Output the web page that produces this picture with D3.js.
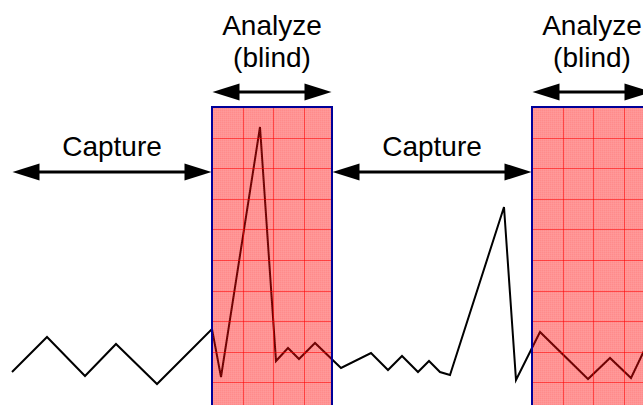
<!DOCTYPE html>
<html>
<head>
<meta charset="utf-8">
<script src="https://cdn.jsdelivr.net/npm/d3@7"></script>
<style>
  html, body { margin: 0; padding: 0; background: #fff; }
  svg { display: block; }
</style>
</head>
<body>
<svg id="chart" width="643" height="405"></svg>
<script>
// ---- data ----
const signalTime = [12, 47, 85, 116, 157, 212, 221, 260, 276, 288, 299, 315, 341, 371, 388, 402, 418, 429, 440, 450, 504, 516, 540, 588, 610, 631, 642, 652];
const signalAmp  = [33, 68, 29, 61, 21, 76, 28, 278, 44, 57, 46, 62, 37, 52, 35, 49, 33, 44, 33, 30, 198, 25, 73, 26, 47, 27, 50, 72];
const phaseLabels = ["Capture", "Analyze", "Capture", "Analyze"];
const phaseSub    = ["", "(blind)", "", "(blind)"];
const phaseStart  = [12, 212, 332, 532];
const phaseEnd    = [212, 332, 532, 652];
const blindTop = 298;

// ---- setup ----
const W = 643, H = 405;
const svg = d3.select("#chart");
const x = d3.scaleLinear().domain([0, W]).range([0, W]);
const y = d3.scaleLinear().domain([0, H]).range([H, 0]);

const defs = svg.append("defs");
const pat = defs.append("pattern").attr("id", "dither")
  .attr("patternUnits", "userSpaceOnUse").attr("width", 2).attr("height", 2);
pat.append("rect").attr("width", 2).attr("height", 2).attr("fill", "#ff0000").attr("fill-opacity", 0.42);
pat.append("rect").attr("width", 1).attr("height", 1).attr("fill", "#ff0000").attr("fill-opacity", 0.06);
pat.append("rect").attr("x", 1).attr("y", 1).attr("width", 1).attr("height", 1).attr("fill", "#ffffff").attr("fill-opacity", 0.06);

// ---- signal ----
const pts = signalTime.map((t, i) => [t, signalAmp[i]]);
svg.append("path")
  .datum(pts)
  .attr("d", d3.line().x(d => x(d[0])).y(d => y(d[1])))
  .attr("fill", "none").attr("stroke", "#000").attr("stroke-width", 2)
  .attr("stroke-linejoin", "miter");

// ---- blind windows ----
const blind = phaseLabels.map((l, i) => ({ l, s: phaseStart[i], e: phaseEnd[i], i })).filter(d => d.l === "Analyze");
const cell = 30.6;
blind.forEach(b => {
  const g = svg.append("g");
  const x0 = x(b.s), x1 = x(b.e), y0 = y(blindTop), y1 = y(0) + 10;
  g.append("rect").attr("x", x0).attr("y", y0).attr("width", x1 - x0).attr("height", y1 - y0)
    .attr("fill", "url(#dither)");
  const vx = d3.range(x0 + cell, x1 - 2, cell);
  const hy = d3.range(y0 + cell, y1, cell);
  g.selectAll("line.v").data(vx).enter().append("line")
    .attr("x1", d => Math.round(d) + 0.5).attr("x2", d => Math.round(d) + 0.5)
    .attr("y1", y0).attr("y2", y1).attr("stroke", "#ff0000").attr("stroke-opacity", 0.55).attr("stroke-width", 1);
  g.selectAll("line.h").data(hy).enter().append("line")
    .attr("y1", d => Math.round(d) + 0.5).attr("y2", d => Math.round(d) + 0.5)
    .attr("x1", x0).attr("x2", x1).attr("stroke", "#ff0000").attr("stroke-opacity", 0.55).attr("stroke-width", 1);
  g.append("path")
    .attr("d", `M${x0},${y1}V${y0}H${x1}V${y1}`)
    .attr("fill", "none").attr("stroke", "#000099").attr("stroke-width", 2);
});

// ---- arrows & labels ----
function arrow(xa, xb, yy) {
  const L = 27, hw = 8.5;
  svg.append("line").attr("x1", xa + L - 2).attr("x2", xb - L + 2).attr("y1", yy).attr("y2", yy)
    .attr("stroke", "#000").attr("stroke-width", 3);
  svg.append("path").attr("d", `M${xa},${yy}L${xa + L},${yy - hw}L${xa + L},${yy + hw}Z`).attr("fill", "#000");
  svg.append("path").attr("d", `M${xb},${yy}L${xb - L},${yy - hw}L${xb - L},${yy + hw}Z`).attr("fill", "#000");
}
const font = "Liberation Sans, Arial, sans-serif";
phaseLabels.forEach((l, i) => {
  const xa = x(phaseStart[i]) + 0.5, xb = x(phaseEnd[i]) - 0.5;
  const cx = (x(phaseStart[i]) + x(phaseEnd[i])) / 2;
  if (l === "Capture") {
    arrow(xa, xb, 172);
    svg.append("text").attr("x", cx).attr("y", 156).attr("text-anchor", "middle")
      .attr("font-family", font).attr("font-size", 28).text(l);
  } else {
    arrow(xa, xb, 92);
    svg.append("text").attr("x", cx).attr("y", 35).attr("text-anchor", "middle")
      .attr("font-family", font).attr("font-size", 28).text(l);
    svg.append("text").attr("x", cx).attr("y", 67).attr("text-anchor", "middle")
      .attr("font-family", font).attr("font-size", 28).text(phaseSub[i]);
  }
});
</script>
</body>
</html>
